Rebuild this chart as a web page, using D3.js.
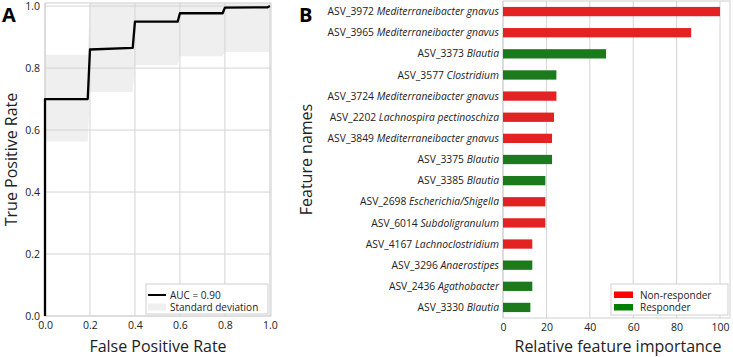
<!DOCTYPE html>
<html><head><meta charset="utf-8">
<script src="https://cdn.jsdelivr.net/npm/d3@7"></script>
<style>body{margin:0;background:#fff}svg{display:block;font-family:"Open Sans",sans-serif}</style>
</head><body>
<svg id="c" width="733" height="357"></svg>
<script>
// Panel A data
const rocFpr = [0, 0, 0.19, 0.20, 0.39, 0.40, 0.59, 0.60, 0.79, 0.80, 0.99, 1.0];
const rocTpr = [0, 0.70, 0.70, 0.86, 0.865, 0.95, 0.95, 0.977, 0.977, 0.995, 0.996, 1.0];
const bandFpr = [0, 0.19, 0.20, 0.39, 0.40, 0.59, 0.60, 0.79, 0.80, 1.0];
const bandLow = [0.563, 0.563, 0.723, 0.723, 0.809, 0.809, 0.838, 0.838, 0.852, 0.852];
const bandHigh = [0.843, 0.843, 1.01, 1.01, 1.01, 1.01, 1.01, 1.01, 1.01, 1.01];
const rocTicks = [0, 0.2, 0.4, 0.6, 0.8, 1.0];
const aucLabel = "AUC = 0.90";
// Panel B data
const featIds = ["ASV_3972","ASV_3965","ASV_3373","ASV_3577","ASV_3724","ASV_2202","ASV_3849","ASV_3375","ASV_3385","ASV_2698","ASV_6014","ASV_4167","ASV_3296","ASV_2436","ASV_3330"];
const featTaxa = ["Mediterraneibacter gnavus","Mediterraneibacter gnavus","Blautia","Clostridium","Mediterraneibacter gnavus","Lachnospira pectinoschiza","Mediterraneibacter gnavus","Blautia","Blautia","Escherichia/Shigella","Subdoligranulum","Lachnoclostridium","Anaerostipes","Agathobacter","Blautia"];
const featValues = [100, 86.7, 47.5, 24.6, 24.6, 23.5, 22.6, 22.6, 19.5, 19.5, 19.5, 13.5, 13.5, 13.5, 12.6];
const featGroup = ["Non-responder","Non-responder","Responder","Responder","Non-responder","Non-responder","Non-responder","Responder","Responder","Non-responder","Non-responder","Non-responder","Responder","Responder","Responder"];
const impTicks = [0, 20, 40, 60, 80, 100];

const svg = d3.select("#c");
const grid = "#d4d4d4", frame = "#d0d0d0", txt = "#222";

// ---------- Panel A ----------
{
  const L = 45, R = 271, T = 3, B = 316;
  const x = d3.scaleLinear().domain([0, 1.005]).range([L, R]);
  const y = d3.scaleLinear().domain([0, 1.01]).range([B, T]);
  const g = svg.append("g");
  const band = bandFpr.map((f, i) => ({f, lo: bandLow[i], hi: bandHigh[i]}));
  g.append("path").datum(band)
    .attr("d", d3.area().x(d => x(d.f)).y0(d => y(d.lo)).y1(d => y(d.hi)))
    .attr("fill", "#efefef");
  g.append("g").selectAll("line").data(rocTicks).join("line")
    .attr("x1", d => x(d)).attr("x2", d => x(d)).attr("y1", T).attr("y2", B)
    .attr("stroke", grid).attr("stroke-width", 1);
  g.append("g").selectAll("line").data(rocTicks).join("line")
    .attr("y1", d => y(d)).attr("y2", d => y(d)).attr("x1", L).attr("x2", R)
    .attr("stroke", grid).attr("stroke-width", 1);
  g.append("rect").attr("x", L).attr("y", T).attr("width", R - L).attr("height", B - T)
    .attr("fill", "none").attr("stroke", frame);
  const pts = rocFpr.map((f, i) => [f, rocTpr[i]]);
  g.append("path").datum(pts)
    .attr("d", d3.line().x(d => x(d[0])).y(d => y(d[1])))
    .attr("fill", "none").attr("stroke", "#000").attr("stroke-width", 2.3)
    .attr("stroke-linejoin", "round");
  const xa = g.append("g").attr("transform", `translate(0,${B})`)
    .call(d3.axisBottom(x).tickValues(rocTicks).tickFormat(d3.format(".1f")).tickSize(0).tickPadding(6));
  const ya = g.append("g").attr("transform", `translate(${L},0)`)
    .call(d3.axisLeft(y).tickValues(rocTicks).tickFormat(d3.format(".1f")).tickSize(0).tickPadding(5));
  [xa, ya].forEach(a => { a.select(".domain").remove(); a.selectAll("text").attr("font-size", 10.5).attr("fill", txt).attr("font-family", "Open Sans"); });
  g.append("text").attr("x", (L + R) / 2).attr("y", 352).attr("text-anchor", "middle")
    .attr("font-size", 16).attr("fill", txt).text("False Positive Rate");
  g.append("text").attr("transform", `translate(17,${(T + B) / 2}) rotate(-90)`).attr("text-anchor", "middle")
    .attr("font-size", 16).attr("fill", txt).text("True Positive Rate");
  g.append("text").attr("x", 2).attr("y", 22).attr("font-size", 20).attr("font-weight", "bold")
    .attr("fill", "#000").text("A");
  const lg = g.append("g");
  lg.append("rect").attr("x", 146).attr("y", 284).attr("width", 122).attr("height", 30)
    .attr("fill", "#fff").attr("stroke", "#cfcfcf");
  lg.append("line").attr("x1", 148).attr("x2", 166).attr("y1", 295).attr("y2", 295)
    .attr("stroke", "#000").attr("stroke-width", 2);
  lg.append("rect").attr("x", 148).attr("y", 303.5).attr("width", 18).attr("height", 7).attr("fill", "#efefef");
  lg.append("text").attr("x", 170).attr("y", 298.5).attr("font-size", 10).attr("fill", txt).text(aucLabel);
  lg.append("text").attr("x", 170).attr("y", 311).attr("font-size", 10).attr("fill", txt).text("Standard deviation");
}

// ---------- Panel B ----------
{
  const L = 503, R = 730, T = 1, B = 318;
  const x = d3.scaleLinear().domain([0, 104.6]).range([L, R]);
  const y = d3.scaleBand().domain(featIds).range([T, B]).paddingInner(0.56).paddingOuter(0.28);
  const color = d3.scaleOrdinal().domain(["Non-responder", "Responder"]).range(["#e32222", "#1b7a1b"]);
  const legColor = d3.scaleOrdinal().domain(["Non-responder", "Responder"]).range(["#ff0000", "#008000"]);
  const g = svg.append("g");
  g.append("g").selectAll("line").data(impTicks).join("line")
    .attr("x1", d => x(d)).attr("x2", d => x(d)).attr("y1", T).attr("y2", B)
    .attr("stroke", grid);
  g.append("rect").attr("x", L).attr("y", T).attr("width", R - L).attr("height", B - T)
    .attr("fill", "none").attr("stroke", frame);
  g.append("g").selectAll("rect").data(featIds).join("rect")
    .attr("x", x(0)).attr("y", d => y(d))
    .attr("width", (d, i) => x(featValues[i]) - x(0)).attr("height", y.bandwidth())
    .attr("fill", (d, i) => color(featGroup[i]));
  const xa = g.append("g").attr("transform", `translate(0,${B})`)
    .call(d3.axisBottom(x).tickValues(impTicks).tickSize(0).tickPadding(6));
  xa.select(".domain").remove();
  xa.selectAll("text").attr("font-size", 10.5).attr("fill", txt).attr("font-family", "Open Sans");
  const lab = g.append("g").selectAll("text").data(featIds).join("text")
    .attr("x", L - 4).attr("y", d => y(d) + y.bandwidth() / 2).attr("dy", "0.35em")
    .attr("text-anchor", "end").attr("font-size", 10.3).attr("fill", txt);
  lab.append("tspan").text(d => d + " ");
  lab.append("tspan").attr("font-style", "italic").text((d, i) => featTaxa[i]);
  g.append("text").attr("x", 618).attr("y", 352).attr("text-anchor", "middle")
    .attr("font-size", 16).attr("fill", txt).text("Relative feature importance");
  g.append("text").attr("transform", `translate(312,${(T + B) / 2}) rotate(-90)`).attr("text-anchor", "middle")
    .attr("font-size", 16).attr("fill", txt).text("Feature names");
  g.append("text").attr("x", 299).attr("y", 22).attr("font-size", 20).attr("font-weight", "bold")
    .attr("fill", "#000").text("B");
  const lg = g.append("g");
  lg.append("rect").attr("x", 611).attr("y", 284).attr("width", 117).attr("height", 31)
    .attr("fill", "#fff").attr("stroke", "#cfcfcf");
  ["Non-responder", "Responder"].forEach((k, i) => {
    lg.append("rect").attr("x", 614).attr("y", 291.5 + i * 12.5).attr("width", 19).attr("height", 6.5).attr("fill", legColor(k));
    lg.append("text").attr("x", 640).attr("y", 298.5 + i * 12.5).attr("font-size", 10).attr("fill", txt).text(k);
  });
}
</script>
</body></html>
